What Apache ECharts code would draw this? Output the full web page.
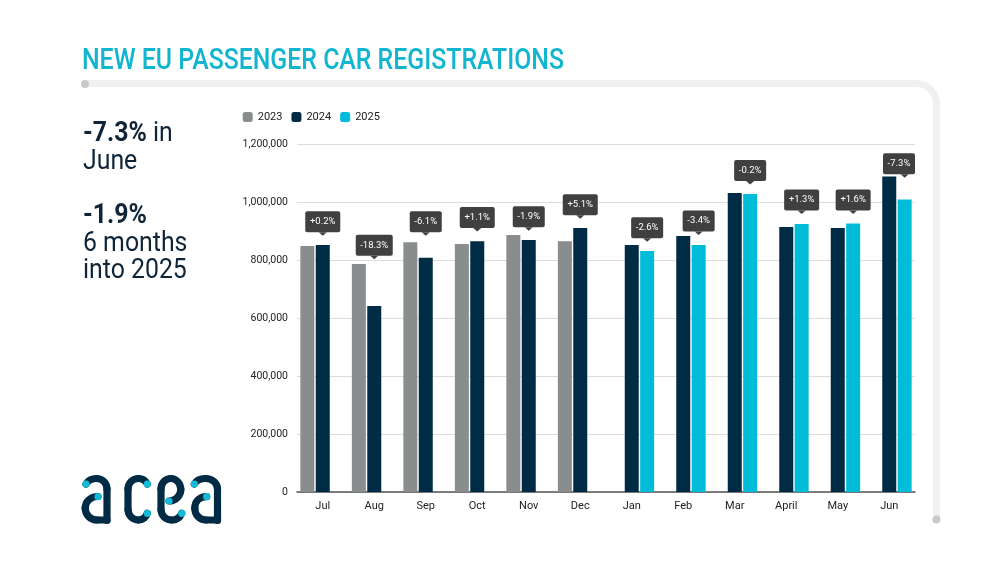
<!DOCTYPE html>
<html>
<head>
<meta charset="UTF-8">
<title>New EU passenger car registrations</title>
<script src="https://cdn.jsdelivr.net/npm/echarts@6/dist/echarts.min.js"></script>
<style>
html, body { margin: 0; padding: 0; background: #fff; }
#chart { width: 1000px; height: 563px; }
</style>
</head>
<body>
<div id="chart"></div>
<script>
var months = ['Jul', 'Aug', 'Sep', 'Oct', 'Nov', 'Dec', 'Jan', 'Feb', 'Mar', 'April', 'May', 'Jun'];
var y2023 = [848000, 786000, 861000, 855000, 886000, 865000, null, null, null, null, null, null];
var y2024 = [852000, 641000, 808000, 865000, 869000, 910000, 852000, 883000, 1031000, 914000, 910000, 1088000];
var y2025 = [null, null, null, null, null, null, 831000, 852000, 1028000, 924000, 926000, 1009000];
var changeLabels = ['+0.2%', '-18.3%', '-6.1%', '+1.1%', '-1.9%', '+5.1%', '-2.6%', '-3.4%', '-0.2%', '+1.3%', '+1.6%', '-7.3%'];
// value each callout points down to
var changeLevels = [884000, 803000, 884000, 898000, 901000, 942000, 863000, 886000, 1060000, 959000, 959000, 1084000];

var navy = '#002b45';
var cyan = '#00bcd9';
var grey = '#8a8d8e';
var font = 'Roboto';
var barW = 14;

var measure = document.createElement('canvas').getContext('2d');
measure.font = '9.5px ' + font;

// one callout: rounded box, small arrow, white text
function renderCallout(params, api) {
	var i = params.dataIndex;
	var pt = api.coord([api.value(0), api.value(1)]);
	var tipX = pt[0] + (y2025[i] != null ? barW * 1.1 : 0);
	var boxW = Math.round(measure.measureText(changeLabels[i]).width) + 9;
	var right = params.coordSys.x + params.coordSys.width;
	var cx = Math.min(tipX, right - boxW / 2);
	var boxB = pt[1] - 3.5;
	return {
		type: 'group',
		children: [
			{ type: 'rect', shape: { x: cx - boxW / 2, y: boxB - 21, width: boxW, height: 21, r: 2 }, style: { fill: '#404040' } },
			{ type: 'polygon', shape: { points: [[tipX - 4, boxB], [tipX + 4, boxB], [tipX, pt[1]]] }, style: { fill: '#404040' } },
			{ type: 'text', style: { text: changeLabels[i], x: cx, y: boxB - 10.5, fill: '#fff', font: '9.5px ' + font, align: 'center', verticalAlign: 'middle' } }
		]
	};
}

function leftLine(text, baseline) {
	return {
		type: 'text', x: 83, y: baseline, scaleX: 0.92, scaleY: 1,
		style: {
			text: text, fill: '#0f2537', font: '27px ' + font, verticalAlign: 'bottom',
			rich: { b: { font: 'bold 27px ' + font, fill: '#0f2537' } }
		}
	};
}

// a stroke given as start point followed by cubic segments [cp1x,cp1y,cp2x,cp2y,x,y]
function strokePieces(start, segs, color, width, z) {
	var x = start[0], y = start[1];
	return segs.map(function (s) {
		var el = {
			type: 'bezierCurve', z: z,
			shape: { x1: x, y1: y, cpx1: s[0], cpy1: s[1], cpx2: s[2], cpy2: s[3], x2: s[4], y2: s[5] },
			style: { fill: null, stroke: color, lineWidth: width, lineCap: 'round' }
		};
		x = s[4]; y = s[5];
		return el;
	});
}
function straight(x1, y1, x2, y2) { return [x1, y1, x2, y2, x2, y2]; }
function logoStroke(start, segs) { return strokePieces(start, segs, navy, 7.2, 2); }
function logoDot(x, y) {
	return { type: 'circle', z: 3, shape: { cx: x, cy: y, r: 3.6 }, style: { fill: '#12bcd8' } };
}

var frame = strokePieces([85, 83.5], [
	straight(85, 83.5, 916, 83.5),
	[927.5, 83.5, 936.5, 92.5, 936.5, 104],
	straight(936.5, 104, 936.5, 519.5)
], '#f0f0f0', 7, 1);

var logo = [].concat(
	logoStroke([86, 484], [[88, 480.5, 92, 478.5, 96.5, 478.5], [102.3, 478.5, 107, 483.2, 107, 489], straight(107, 489, 107, 520.5)]),
	logoStroke([98, 496.5], [[90.5, 496.5, 85.2, 501.5, 85.2, 508.2], [85.2, 514.8, 90.5, 520, 97, 520], straight(97, 520, 107, 520)]),
	logoStroke([147.3, 484], [[145.5, 480.5, 142, 478.5, 138.5, 478.5], [132.7, 478.5, 128, 483.2, 128, 489], straight(128, 489, 128, 509.5), [128, 515.3, 132.7, 520, 138.5, 520], [142.5, 520, 145.8, 517.5, 147.3, 513.3]]),
	logoStroke([169, 501], [[175.5, 501, 180.8, 495.8, 180.8, 489.5], [180.8, 483.2, 176, 478.5, 171, 478.5], [165.5, 478.5, 161, 483.2, 161, 489], straight(161, 489, 161, 509.5), [161, 515.3, 165.7, 520, 171.5, 520], [176, 520, 180, 517.5, 181.7, 513.3]]),
	logoStroke([194.3, 484], [[196.2, 480.5, 200.5, 478.5, 205.5, 478.5], [212.5, 478.5, 217.5, 483.2, 217.5, 489], straight(217.5, 489, 217.5, 520.5)]),
	logoStroke([206.7, 496.7], [[199.5, 496.7, 194.8, 501.5, 194.8, 508.2], [194.8, 514.8, 199.5, 520, 206, 520], straight(206, 520, 217.5, 520)]),
	[logoDot(86, 484), logoDot(98, 496.7), logoDot(147.3, 484), logoDot(147.3, 513.3),
	 logoDot(169, 501), logoDot(181.7, 513.3), logoDot(194.3, 484), logoDot(206.7, 496.7)]
);

var myChart = echarts.init(document.getElementById('chart'));
myChart.setOption({
	backgroundColor: '#fff',
	animation: false,
	textStyle: { fontFamily: font },
	legend: {
		left: 237.7, top: 106.5,
		itemWidth: 10, itemHeight: 10, itemGap: 9,
		icon: 'roundRect',
		data: ['2023', '2024', '2025'],
		textStyle: { fontFamily: font, fontSize: 11, color: '#222' }
	},
	grid: { left: 297, right: 85, top: 144, bottom: 71 },
	xAxis: {
		type: 'category',
		data: months,
		axisTick: { show: false },
		axisLine: { lineStyle: { color: '#555', width: 1.5 } },
		axisLabel: { fontFamily: font, fontSize: 11, color: '#222', margin: 9 }
	},
	yAxis: {
		type: 'value',
		min: 0, max: 1200000, interval: 200000,
		axisLine: { show: false },
		axisTick: { show: false },
		axisLabel: {
			fontFamily: font, fontSize: 10.5, color: '#222', margin: 9,
			formatter: function (v) { return v.toLocaleString('en-US'); }
		},
		splitLine: { lineStyle: { color: '#dcdcdc', width: 1 } }
	},
	series: [
		{ name: '2023', type: 'bar', barWidth: barW, barGap: '10%', data: y2023, itemStyle: { color: grey } },
		{ name: '2024', type: 'bar', barWidth: barW, barGap: '10%', data: y2024, itemStyle: { color: navy } },
		{ name: '2025', type: 'bar', barWidth: barW, barGap: '10%', data: y2025, itemStyle: { color: cyan } },
		{
			type: 'custom', renderItem: renderCallout, silent: true, z: 5,
			encode: { x: 0, y: 1 },
			data: changeLevels.map(function (v, i) { return [i, v]; })
		}
	],
	graphic: [
		// title
		{
			type: 'text', x: 82, y: 76.5, scaleX: 0.828, scaleY: 1,
			style: { text: 'NEW EU PASSENGER CAR REGISTRATIONS', fill: '#12b5cf', font: '500 30px ' + font, verticalAlign: 'bottom' }
		},
		{ type: 'circle', z: 2, shape: { cx: 85, cy: 84, r: 4 }, style: { fill: '#c9c9c9' } },
		{ type: 'circle', z: 2, shape: { cx: 936.5, cy: 519.5, r: 4 }, style: { fill: '#c9c9c9' } },
		// left side notes
		leftLine('{b|-7.3%} in', 147.5),
		leftLine('June', 175.5),
		leftLine('{b|-1.9%}', 230),
		leftLine('6 months', 257.5),
		leftLine('into 2025', 284.5)
	].concat(frame, logo)
});
</script>
</body>
</html>
